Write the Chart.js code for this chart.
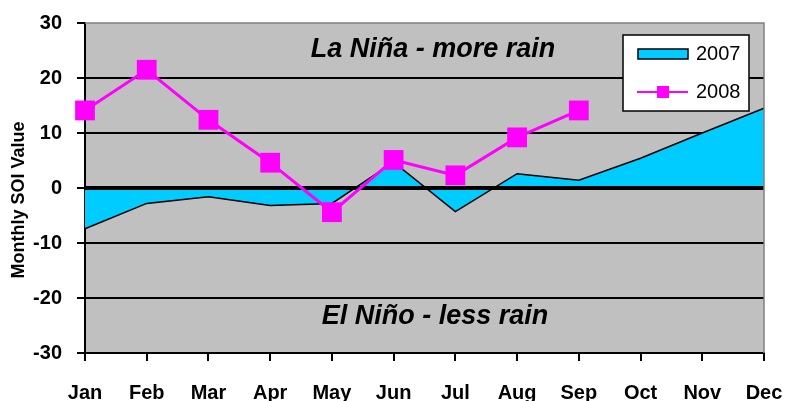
<!DOCTYPE html>
<html>
<head>
<meta charset="utf-8">
<title>Monthly SOI</title>
<script src="https://cdn.jsdelivr.net/npm/chart.js@4/dist/chart.umd.min.js"></script>
<style>
  html, body { margin: 0; padding: 0; background: #fff; }
  #wrap { width: 787px; height: 401px; }
</style>
</head>
<body>
<div id="wrap"><canvas id="soiChart" width="787" height="401"></canvas></div>
<script>
// Monthly SOI values, 2007 (area) vs 2008 (line with markers)
const months = ['Jan', 'Feb', 'Mar', 'Apr', 'May', 'Jun', 'Jul', 'Aug', 'Sep', 'Oct', 'Nov', 'Dec'];
const soi2007 = [-7.4, -2.8, -1.6, -3.2, -2.8, 4.7, -4.3, 2.6, 1.4, 5.4, 10.0, 14.5];
const soi2008 = [14.1, 21.5, 12.4, 4.6, -4.4, 5.1, 2.3, 9.2, 14.1];
const yTicks = [-30, -20, -10, 0, 10, 20, 30];
const seriesNames = ['2007', '2008'];
const notes = [
  { text: 'La Niña - more rain', value: 25.2, dx: 348 },
  { text: 'El Niño - less rain', value: -23.3, dx: 350 }
];
const axisTitle = 'Monthly SOI Value';

const FONT = '"Liberation Sans", Arial, sans-serif';
const GRAY = '#C0C0C0';
const CYAN = '#00CCFF';
const MAGENTA = '#FF00FF';

// gray plot background
const plotBg = {
  id: 'plotBg',
  beforeDraw(chart) {
    const { ctx, chartArea: a } = chart;
    ctx.save();
    ctx.fillStyle = GRAY;
    ctx.fillRect(a.left, a.top, a.right - a.left, a.bottom - a.top);
    ctx.restore();
  }
};

// thick zero line goes over the 2007 area but under the 2008 line
const zeroLine = {
  id: 'zeroLine',
  afterDatasetDraw(chart, args) {
    if (args.index !== 0) return;
    const { ctx, chartArea: a } = chart;
    const y = chart.scales.y.getPixelForValue(0);
    ctx.save();
    ctx.strokeStyle = '#000';
    ctx.lineWidth = 4;
    ctx.beginPath();
    ctx.moveTo(a.left, y);
    ctx.lineTo(a.right, y);
    ctx.stroke();
    ctx.restore();
  }
};

// texts, frame, legend box and y title
const extras = {
  id: 'extras',
  afterDraw(chart) {
    const { ctx, chartArea: a } = chart;
    const ys = chart.scales.y;
    ctx.save();

    // top / right frame in gray
    ctx.strokeStyle = '#808080';
    ctx.lineWidth = 1.5;
    ctx.beginPath();
    ctx.moveTo(a.left, a.top);
    ctx.lineTo(a.right, a.top);
    ctx.lineTo(a.right, a.bottom);
    ctx.stroke();

    // La Nina / El Nino notes
    ctx.fillStyle = '#000';
    ctx.font = 'italic bold 27px ' + FONT;
    ctx.textAlign = 'center';
    ctx.textBaseline = 'middle';
    notes.forEach(n => ctx.fillText(n.text, a.left + n.dx, ys.getPixelForValue(n.value)));

    // y axis title
    ctx.save();
    ctx.translate(19, 200);
    ctx.rotate(-Math.PI / 2);
    ctx.font = 'bold 18px ' + FONT;
    ctx.fillText(axisTitle, 0, 0);
    ctx.restore();

    // legend
    const lx = 623, ly = 35, lw = 126, lh = 76;
    ctx.fillStyle = '#fff';
    ctx.fillRect(lx, ly, lw, lh);
    ctx.strokeStyle = '#000';
    ctx.lineWidth = 1.5;
    ctx.strokeRect(lx, ly, lw, lh);

    const ds = chart.data.datasets;
    ctx.font = '20px ' + FONT;
    ctx.textAlign = 'left';

    // 2007 swatch
    ctx.fillStyle = ds[0].backgroundColor;
    ctx.fillRect(638, 49, 50, 10);
    ctx.strokeStyle = '#000';
    ctx.lineWidth = 1.5;
    ctx.strokeRect(638, 49, 50, 10);
    ctx.fillStyle = '#000';
    ctx.fillText(ds[0].label, 696, 54);

    // 2008 line + marker
    ctx.strokeStyle = ds[1].borderColor;
    ctx.lineWidth = 2;
    ctx.beginPath();
    ctx.moveTo(637, 92);
    ctx.lineTo(688, 92);
    ctx.stroke();
    ctx.fillStyle = ds[1].borderColor;
    ctx.fillRect(657, 86, 12, 12);
    ctx.fillStyle = '#000';
    ctx.fillText(ds[1].label, 696, 92);

    ctx.restore();
  }
};

new Chart(document.getElementById('soiChart'), {
  type: 'line',
  data: {
    labels: months,
    datasets: [
      {
        label: seriesNames[0],
        data: soi2007,
        fill: 'origin',
        backgroundColor: CYAN,
        borderColor: '#000',
        borderWidth: 1.5,
        pointRadius: 0,
        tension: 0,
        order: 1
      },
      {
        label: seriesNames[1],
        data: soi2008,
        fill: false,
        borderColor: MAGENTA,
        backgroundColor: MAGENTA,
        borderWidth: 3,
        pointStyle: 'rect',
        pointRadius: 14,
        pointBorderWidth: 0,
        pointBackgroundColor: MAGENTA,
        tension: 0,
        order: 0
      }
    ]
  },
  options: {
    responsive: false,
    animation: false,
    layout: { padding: { top: 23, right: 23, left: 0, bottom: 0 } },
    plugins: {
      legend: { display: false },
      tooltip: { enabled: false }
    },
    scales: {
      x: {
        offset: false,
        grid: {
          drawOnChartArea: false,
          drawTicks: true,
          tickLength: 8,
          color: '#000',
          lineWidth: 2
        },
        border: { color: '#000', width: 2 },
        ticks: {
          color: '#000',
          padding: 20,
          maxRotation: 0,
          autoSkip: false,
          font: { family: FONT, size: 20, weight: 'bold' }
        },
        afterFit(scale) {
          scale.height = 48;
          scale.paddingLeft = 0;
          scale.paddingRight = 0;
        }
      },
      y: {
        min: -30,
        max: 30,
        afterBuildTicks(scale) { scale.ticks = yTicks.map(v => ({ value: v })); },
        grid: {
          color: '#000',
          lineWidth: ctx => (ctx.tick && ctx.tick.value === 30 ? 0 : 2),
          tickWidth: 2,
          tickColor: '#000',
          drawTicks: true,
          tickLength: 8
        },
        border: { color: '#000', width: 2 },
        ticks: {
          color: '#000',
          padding: 15,
          font: { family: FONT, size: 20, weight: 'bold' }
        },
        afterFit(scale) {
          scale.width = 85;
          scale.paddingTop = 0;
          scale.paddingBottom = 0;
        }
      }
    }
  },
  plugins: [plotBg, zeroLine, extras]
});
</script>
</body>
</html>
